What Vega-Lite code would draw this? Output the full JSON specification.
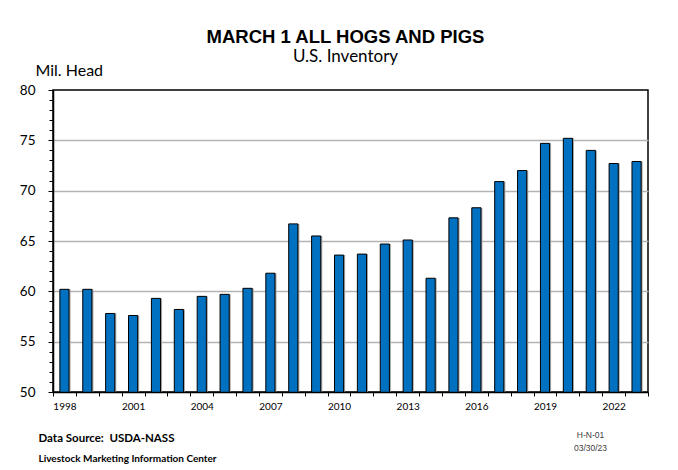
{
  "$schema": "https://vega.github.io/schema/vega-lite/v6.json",
  "width": 595,
  "height": 302,
  "autosize": "none",
  "padding": {"left": 53, "top": 90, "right": 30, "bottom": 78},
  "background": "white",
  "config": {
    "view": {"stroke": "black", "strokeWidth": 1.5},
    "font": "Lato"
  },
  "title": {
    "text": "MARCH 1 ALL HOGS AND PIGS",
    "subtitle": "U.S. Inventory",
    "font": "Liberation Sans",
    "fontSize": 18.5,
    "fontWeight": "bold",
    "color": "black",
    "subtitleFont": "Lato",
    "subtitleFontSize": 17,
    "subtitleColor": "black",
    "subtitlePadding": 3,
    "anchor": "middle",
    "frame": "group",
    "dx": -5,
    "offset": -3
  },
  "data": {
    "values": [
      {"Year": 1998, "Inventory": 60.2},
      {"Year": 1999, "Inventory": 60.2},
      {"Year": 2000, "Inventory": 57.8},
      {"Year": 2001, "Inventory": 57.6},
      {"Year": 2002, "Inventory": 59.3},
      {"Year": 2003, "Inventory": 58.2},
      {"Year": 2004, "Inventory": 59.5},
      {"Year": 2005, "Inventory": 59.7},
      {"Year": 2006, "Inventory": 60.3},
      {"Year": 2007, "Inventory": 61.8},
      {"Year": 2008, "Inventory": 66.7},
      {"Year": 2009, "Inventory": 65.5},
      {"Year": 2010, "Inventory": 63.6},
      {"Year": 2011, "Inventory": 63.7},
      {"Year": 2012, "Inventory": 64.7},
      {"Year": 2013, "Inventory": 65.1},
      {"Year": 2014, "Inventory": 61.3},
      {"Year": 2015, "Inventory": 67.3},
      {"Year": 2016, "Inventory": 68.3},
      {"Year": 2017, "Inventory": 70.9},
      {"Year": 2018, "Inventory": 72.0},
      {"Year": 2019, "Inventory": 74.7},
      {"Year": 2020, "Inventory": 75.2},
      {"Year": 2021, "Inventory": 74.0},
      {"Year": 2022, "Inventory": 72.7},
      {"Year": 2023, "Inventory": 72.9}
    ]
  },
  "layer": [
    {
      "mark": {"type": "bar", "color": "#a6a6a6", "width": {"band": 0.4}, "xOffset": 1.5, "clip": true},
      "encoding": {
        "x": {
          "field": "Year", "type": "ordinal",
          "scale": {"paddingInner": 0, "paddingOuter": 0},
          "axis": {
            "orient": "top", "domain": false, "ticks": false, "labels": false, "grid": false,
            "title": "Livestock Marketing Information Center",
            "titleX": -15, "titleY": 371, "titleAlign": "left", "titleBaseline": "alphabetic",
            "titleAngle": 0,
            "titleFont": "Lato", "titleFontSize": 10, "titleFontWeight": "bold", "titleColor": "black"
          }
        },
        "y": {
          "field": "Inventory", "type": "quantitative",
          "scale": {"domain": [50, 80], "zero": false, "nice": false},
          "axis": {
            "orient": "right", "domain": false, "ticks": false, "labels": false, "grid": false,
            "title": ["H-N-01", "03/30/23"],
            "titleAngle": 0, "titleX": -58, "titleY": 347, "titleAlign": "center",
            "titleBaseline": "alphabetic", "titleLineHeight": 13,
            "titleFont": "Liberation Sans", "titleFontSize": 8.5, "titleFontWeight": "normal",
            "titleColor": "#404040"
          }
        }
      }
    },
    {
      "mark": {"type": "bar", "color": "#0070C0", "stroke": "black", "strokeWidth": 1, "width": {"band": 0.4}, "clip": true},
      "encoding": {
        "x": {
          "field": "Year", "type": "ordinal",
          "axis": {
            "orient": "bottom",
            "tickBand": "extent",
            "labelExpr": "(datum.value - 1998) % 3 === 0 ? datum.label : ''",
            "labelAngle": 0, "labelFont": "Lato", "labelFontSize": 10, "labelColor": "black",
            "labelPadding": 5, "labelOverlap": false,
            "ticks": true, "tickSize": 4, "tickColor": "black", "tickWidth": 1,
            "domain": true, "domainColor": "black", "domainWidth": 1.5,
            "grid": false, "zindex": 1,
            "title": "Data Source:\u00a0 USDA-NASS",
            "titleX": -15, "titleY": 49, "titleAlign": "left", "titleBaseline": "alphabetic",
            "titleFont": "Lato", "titleFontSize": 11.5, "titleFontWeight": "bold", "titleColor": "black"
          }
        },
        "y": {
          "field": "Inventory", "type": "quantitative",
          "axis": {
            "orient": "left",
            "values": [50,51,52,53,54,55,56,57,58,59,60,61,62,63,64,65,66,67,68,69,70,71,72,73,74,75,76,77,78,79,80],
            "labelExpr": "datum.value % 5 === 0 ? datum.label : ''",
            "labelFont": "Lato", "labelFontSize": 13.5, "labelColor": "black", "labelPadding": 13,
            "labelOverlap": false,
            "tickSize": {"condition": {"test": "datum.value % 5 === 0", "value": 5}, "value": 4},
            "tickColor": "black", "tickWidth": 1,
            "domain": true, "domainColor": "black", "domainWidth": 1.5,
            "grid": true, "gridColor": "#b3b3b3", "gridWidth": 1.5,
            "gridOpacity": {"condition": {"test": "datum.value % 5 === 0 && datum.value > 50 && datum.value < 80", "value": 1}, "value": 0},
            "zindex": 0,
            "title": "Mil. Head",
            "titleAngle": 0, "titleX": -18, "titleY": -15, "titleAlign": "left", "titleBaseline": "alphabetic",
            "titleFont": "Lato", "titleFontSize": 16, "titleFontWeight": "normal", "titleColor": "black"
          }
        }
      }
    }
  ]
}
